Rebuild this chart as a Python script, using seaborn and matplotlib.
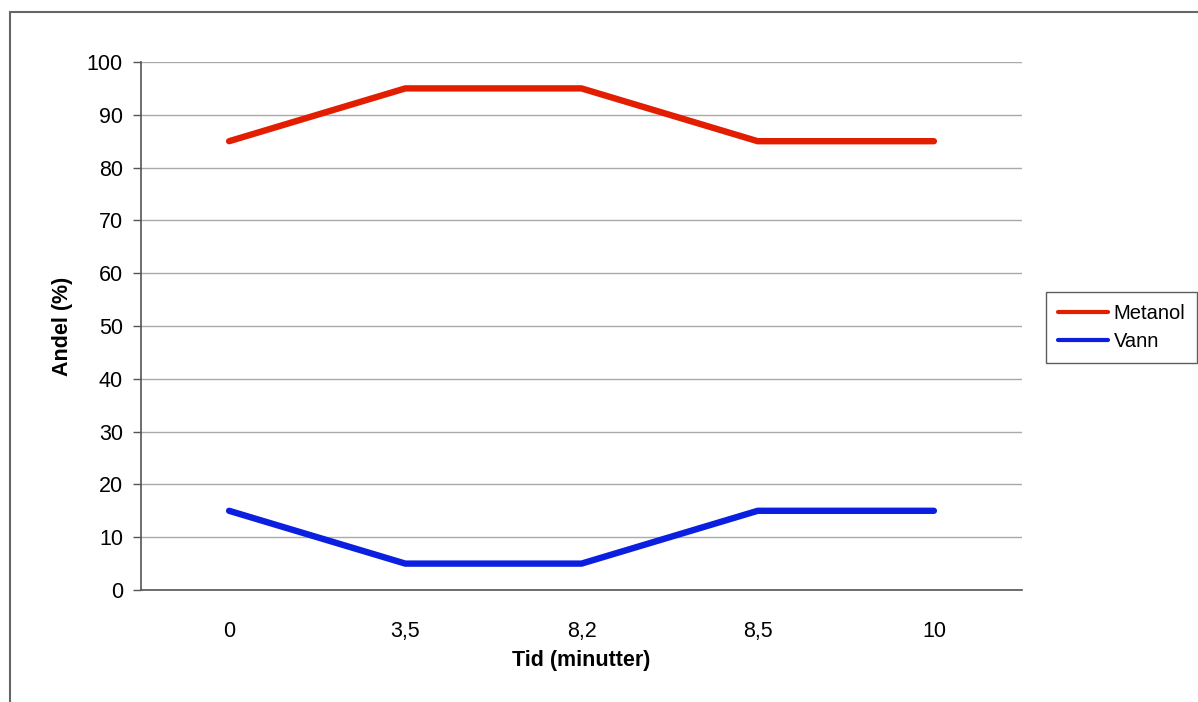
import pandas as pd
import matplotlib.pyplot as plt
import seaborn as sns
from matplotlib.patches import Rectangle

# Data
tid = ["0", "3,5", "8,2", "8,5", "10"]
metanol = [85, 95, 95, 85, 85]
vann = [15, 5, 5, 15, 15]

df = pd.DataFrame({
    "Tid": tid * 2,
    "Andel": metanol + vann,
    "Stoff": ["Metanol"] * len(tid) + ["Vann"] * len(tid),
})

sns.set_style("white")
plt.rcParams["font.family"] = ["Liberation Sans", "DejaVu Sans"]
plt.rcParams["text.color"] = "black"
plt.rcParams["axes.labelcolor"] = "black"
plt.rcParams["xtick.color"] = "black"
plt.rcParams["ytick.color"] = "black"

fig = plt.figure(figsize=(11.98, 7.02), dpi=100)
ax = fig.add_axes([141 / 1198, 1 - 590 / 702, 881 / 1198, 528 / 702])

# Outer frame
fig.add_artist(Rectangle((10 / 1198, -0.1), 1.2, 1 - 12 / 702 + 0.1,
                         transform=fig.transFigure, fill=False,
                         edgecolor="#666666", linewidth=1.5))

sns.lineplot(data=df, x="Tid", y="Andel", hue="Stoff", sort=False,
             palette={"Metanol": "#E31E00", "Vann": "#0A1FE0"},
             linewidth=4.6, ax=ax)

ax.set_ylim(0, 100)
ax.set_xlim(-0.5, len(tid) - 0.5)
ax.set_yticks(range(0, 101, 10))
ax.yaxis.grid(True, color="#aaaaaa", linewidth=1)
ax.set_axisbelow(True)

for side in ["top", "right"]:
    ax.spines[side].set_visible(False)
for side in ["left", "bottom"]:
    ax.spines[side].set_color("#555555")
    ax.spines[side].set_linewidth(1.2)

ax.tick_params(axis="y", length=6, width=1, color="#555555", labelsize=15.5, pad=7, left=True)
ax.tick_params(axis="x", length=0, labelsize=15.5, pad=22)

ax.set_xlabel("Tid (minutter)", fontsize=15.5, fontweight="bold", labelpad=6)
ax.set_ylabel("Andel (%)", fontsize=15.5, fontweight="bold", labelpad=10)

leg = ax.legend(title=None, loc="center left", borderaxespad=0,
                fontsize=14.5, frameon=True, fancybox=False, handlelength=2.5,
                handletextpad=0.25, borderpad=0.6, labelspacing=0.45)
leg.set_bbox_to_anchor((1.0272, 0.497), transform=ax.transAxes)
leg.get_frame().set_edgecolor("#333333")
leg.get_frame().set_linewidth(1)
for line in leg.get_lines():
    line.set_linewidth(3)

plt.savefig("out.png", dpi=100)
